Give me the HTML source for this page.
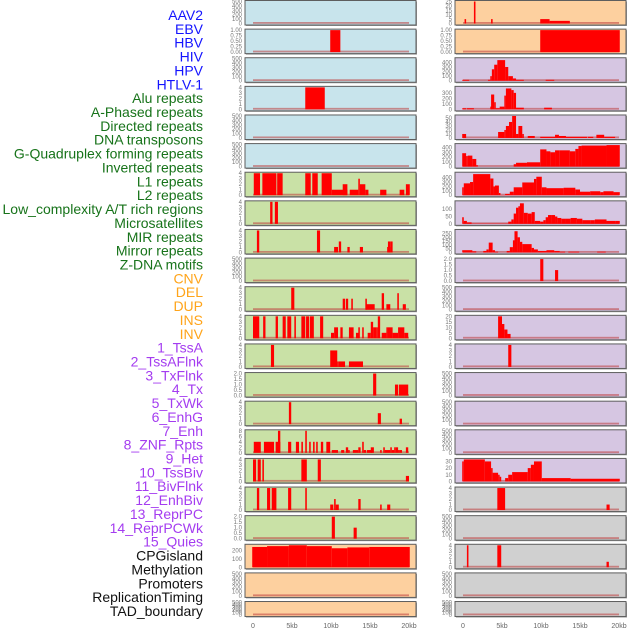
<!DOCTYPE html>
<html><head><meta charset="utf-8"><style>
html,body{margin:0;padding:0;background:#fff;width:630px;height:630px;overflow:hidden}
svg{display:block}
</style></head><body>
<svg id="chart" width="630" height="630" xmlns="http://www.w3.org/2000/svg" font-family="Liberation Sans, sans-serif"></svg>
<script>
// ---- labels ----
const labelNames = ["AAV2","EBV","HBV","HIV","HPV","HTLV-1","Alu repeats","A-Phased repeats","Directed repeats","DNA transposons","G-Quadruplex forming repeats","Inverted repeats","L1 repeats","L2 repeats","Low_complexity A/T rich regions","Microsatellites","MIR repeats","Mirror repeats","Z-DNA motifs","CNV","DEL","DUP","INS","INV","1_TssA","2_TssAFlnk","3_TxFlnk","4_Tx","5_TxWk","6_EnhG","7_Enh","8_ZNF_Rpts","9_Het","10_TssBiv","11_BivFlnk","12_EnhBiv","13_ReprPC","14_ReprPCWk","15_Quies","CPGisland","Methylation","Promoters","ReplicationTiming","TAD_boundary"];
const labelGroups = [0,0,0,0,0,0,1,1,1,1,1,1,1,1,1,1,1,1,1,2,2,2,2,2,3,3,3,3,3,3,3,3,3,3,3,3,3,3,3,4,4,4,4,4];
const xTicks = [0,5,10,15,20];
const xTickLabels = ["0","5kb","10kb","15kb","20kb"];

// ---- left column panels: [startKb, endKb, value] ----
const L0 = [];
const L1 = [[9.9,11.2,1]];
const L2 = [];
const L3 = [[6.7,9.2,4]];
const L4 = [];
const L5 = [];
const L6 = [[0.1,0.9,4],[1.2,3.0,4],[3.1,3.8,4],[6.7,7.4,4],[7.6,8.3,4],[8.8,10.1,4],[10.1,12.1,1],[11.5,12.1,2],[12.4,13.5,1],[13.5,13.7,3],[13.7,14.4,2],[14.4,14.8,1],[16.3,17.1,1],[18.8,19.4,1],[19.6,20.1,2]];
const L7 = [[2.2,2.5,4],[2.8,3.2,4]];
const L8 = [[0.5,0.8,4],[8.2,8.6,4],[10.4,10.9,1],[11.0,11.3,2],[12.1,12.4,1],[13.7,14.1,1],[17.2,17.6,1],[17.3,17.6,2],[17.6,17.9,2]];
const L9 = [];
const L10 = [[4.9,5.3,4],[11.5,11.8,2],[11.9,12.2,2],[12.6,12.8,2],[14.4,14.6,2],[14.5,15.6,1],[16.5,16.8,3],[17.1,17.6,1],[18.5,18.7,3],[19.2,19.6,1]];
const L11 = [[0,0.8,4],[1.3,1.6,4],[2.9,3.2,4],[3.8,4.2,4],[4.4,4.9,4],[5.3,5.5,4],[6.2,6.7,4],[6.8,7.2,4],[7.3,7.8,4],[8.6,9.0,4],[10.0,10.4,1],[10.4,10.9,2],[11.2,11.5,2],[12.3,12.9,2],[13.2,13.6,1],[13.5,13.7,2],[14.0,14.2,2],[14.7,15.1,1],[15.1,15.4,3],[15.4,15.8,2],[15.8,16.0,2],[16.0,16.3,4],[16.5,17.1,1],[17.1,17.3,2],[17.3,17.9,2],[17.9,18.6,1],[18.6,19.4,2],[19.4,19.9,1]];
const L12 = [[2.3,2.7,4],[9.9,10.8,3],[10.8,10.9,1],[11.0,11.8,1],[12.3,14.1,1]];
const L13 = [[15.4,15.8,2],[18.2,18.6,1],[18.7,19.9,1]];
const L14 = [[4.6,4.9,4],[16.0,16.4,2],[18.8,19.1,1]];
const L15 = [[0.1,1.0,4],[1.4,2.7,4],[2.9,3.5,4],[3.2,3.5,8],[4.5,4.9,4],[5.5,5.9,4],[6.2,6.4,4],[6.7,6.9,8],[7.2,7.4,4],[7.7,7.9,4],[8.1,8.3,4],[8.7,9.0,4],[9.4,9.9,4],[10.1,10.9,1],[11.3,11.7,1],[11.9,12.2,2],[12.2,12.4,1],[12.8,13.5,1],[13.5,13.8,2],[14.0,14.2,4],[14.2,14.5,1],[14.6,15.3,1],[15.1,15.5,2],[16.3,16.5,1],[16.7,16.9,2],[16.9,17.6,1],[17.6,17.8,2],[17.8,18.1,1],[18.1,18.3,2],[18.3,18.6,2],[18.6,18.8,1],[18.8,19.1,1],[19.6,19.9,2]];
const L16 = [[0,0.4,4],[0.6,1.0,4],[1.2,1.4,4],[6.2,6.9,4],[8.3,8.7,4],[19.6,20.0,1]];
const L17 = [[0.5,0.8,4],[1.8,2.2,4],[2.4,3.0,4],[4.5,4.9,4],[6.7,6.9,4],[9.9,10.3,1],[10.4,10.6,2],[10.6,11.0,1],[13.5,13.8,2],[16.3,16.5,1],[17.2,17.6,1]];
const L18 = [[10.1,10.5,2],[12.9,13.3,1]];
const L19 = [[-0.1,1.8,240],[1.8,4.6,250],[4.6,6.9,260],[6.9,10.1,250],[10.1,12.1,225],[12.1,14.9,235],[14.9,20.1,240]];
const L20 = [];
const L21 = [];

// ---- right column panels ----
const R0 = [[0.2,0.4,5],[1.4,1.6,25],[3.6,3.8,5],[9.9,11.1,5],[11.1,13.7,3]];
const R1 = [[9.9,20.1,1]];
const R2 = [[-0.1,0.8,20],[3.2,3.5,20],[3.5,3.7,100],[3.7,4.0,250],[4.0,4.4,350],[4.4,5.4,450],[5.4,5.8,300],[5.8,6.4,100],[6.4,6.8,50],[6.8,7.8,20],[10.6,11.7,20]];
const R3 = [[-0.1,0.4,20],[0.5,1.4,20],[3.5,3.6,50],[3.6,4.0,270],[4.0,4.2,130],[4.2,4.7,20],[4.7,5.3,50],[5.3,5.5,250],[5.5,6.2,380],[6.2,6.5,350],[6.5,6.8,300],[6.8,7.8,30],[10.4,11.4,30]];
const R4 = [[-0.1,0.4,10],[4.5,5.3,15],[5.3,5.5,20],[5.5,5.9,30],[5.9,6.3,40],[6.3,6.8,55],[6.8,7.1,10],[7.1,7.6,30],[7.6,7.8,10],[8.3,9.2,5],[9.9,11.8,3],[11.8,12.3,8],[12.3,13.2,5],[13.2,15.9,3],[16.0,16.7,3],[17.1,18.1,8],[18.1,19.5,3]];
const R5 = [[-0.1,0.4,280],[0.4,0.6,220],[0.6,1.2,230],[1.2,1.7,160],[1.7,1.8,30],[6.5,6.8,50],[6.8,8.2,80],[8.2,9.9,90],[9.9,10.7,360],[10.7,11.2,320],[11.2,11.8,300],[11.8,12.4,340],[12.4,13.7,340],[13.7,14.4,320],[14.4,14.8,370],[14.8,15.2,430],[15.2,18.4,440],[18.4,20.1,450]];
const R6 = [[-0.1,0.1,180],[0.1,0.9,270],[0.9,1.3,300],[1.3,3.5,480],[3.5,3.9,380],[3.9,4.1,200],[4.1,4.6,220],[4.6,4.8,50],[4.8,5.4,5],[5.4,6.0,30],[6.0,6.5,80],[6.5,7.6,180],[7.6,9.1,290],[9.1,9.4,370],[9.4,10.1,420],[10.1,10.7,180],[10.7,12.9,160],[12.9,14.4,170],[14.4,15.0,130],[15.0,16.3,80],[16.3,17.6,90],[17.6,18.0,70],[18.0,19.3,90],[19.3,20.1,70]];
const R7 = [[-0.1,0.1,45],[0.1,0.5,20],[0.5,1.1,10],[1.1,5.8,2],[5.8,6.2,15],[6.2,6.5,30],[6.5,6.8,70],[6.8,7.1,110],[7.1,7.3,120],[7.3,7.8,140],[7.8,8.3,75],[8.3,8.8,70],[8.8,9.2,80],[9.2,9.9,20],[9.9,10.3,15],[10.3,10.6,25],[10.6,10.9,45],[10.9,11.4,60],[11.4,11.8,60],[11.8,12.1,50],[12.1,12.6,40],[12.6,13.2,35],[13.2,13.8,35],[13.8,14.6,40],[14.6,15.3,35],[15.3,16.3,25],[16.3,16.9,25],[16.9,18.4,30],[18.4,19.6,20],[19.6,20.1,20]];
const R8 = [[-0.1,1.2,30],[1.2,1.7,15],[2.6,3.0,20],[3.0,3.3,40],[3.3,3.8,130],[3.8,4.1,30],[4.1,4.5,10],[5.6,6.0,20],[6.0,6.4,70],[6.4,6.6,160],[6.6,7.0,280],[7.0,7.3,200],[7.3,7.6,140],[7.6,8.8,110],[8.8,9.1,60],[9.1,9.6,40],[9.6,10.7,20],[10.7,11.7,30],[11.7,12.4,20],[12.4,13.1,10],[13.5,14.9,10],[17.2,18.3,10]];
const R9 = [[9.9,10.3,2],[11.8,12.2,1]];
const R10 = [];
const R11 = [[4.5,5.0,20],[5.0,5.3,13],[5.3,5.7,8],[5.7,6.1,4]];
const R12 = [[5.8,6.2,4]];
const R13 = [];
const R14 = [];
const R15 = [];
const R16 = [[-0.1,0.1,30],[0.1,2.8,33],[2.8,3.6,30],[3.6,3.8,20],[3.8,4.5,13],[4.5,4.7,10],[4.7,4.9,7],[5.4,5.8,5],[5.8,6.3,10],[6.3,8.3,14],[8.3,8.7,20],[8.7,9.1,25],[9.1,10.1,30],[10.1,13.8,5],[13.8,20.1,4]];
const R17 = [[4.4,5.4,4],[18.4,18.8,1]];
const R18 = [];
const R19 = [[0.5,0.7,4],[4.4,4.9,4],[18.4,18.7,1]];
const R20 = [];
const R21 = [];

// ---- axis scales per panel ----
const leftMax  = [500,1,500,4,500,500,4,4,4,500,4,4,4,2,4,8,4,4,2,260,500,500];
const rightMax = [25,1,480,400,55,460,500,150,290,2,500,20,4,500,500,500,33,4,500,4,500,500];
const leftTicks  = [[0,100,200,300,400,500],[0,0.25,0.5,0.75,1],[0,100,200,300,400,500],[0,1,2,3,4],[0,100,200,300,400,500],[0,100,200,300,400,500],[0,1,2,3,4],[0,1,2,3,4],[0,1,2,3,4],[0,100,200,300,400,500],[0,1,2,3,4],[0,1,2,3,4],[0,1,2,3,4],[0,0.5,1,1.5,2],[0,1,2,3,4],[0,2,4,6,8],[0,1,2,3,4],[0,1,2,3,4],[0,0.5,1,1.5,2],[0,100,200],[0,100,200,300,400,500],[0,100,200,300,400,500]];
const rightTicks = [[0,5,10,15,20,25],[0,0.25,0.5,0.75,1],[0,100,200,300,400],[0,100,200,300],[0,10,20,30,40,50],[0,100,200,300,400],[0,100,200,300,400],[0,50,100],[0,50,100,150,200,250],[0,0.5,1,1.5,2],[0,100,200,300,400,500],[0,5,10,15,20],[0,1,2,3,4],[0,100,200,300,400,500],[0,100,200,300,400,500],[0,100,200,300,400,500],[0,10,20,30],[0,1,2,3,4],[0,100,200,300,400,500],[0,1,2,3,4],[0,100,200,300,400,500],[0,100,200,300,400,500]];
const leftSegs = [L0,L1,L2,L3,L4,L5,L6,L7,L8,L9,L10,L11,L12,L13,L14,L15,L16,L17,L18,L19,L20,L21];
const rightSegs = [R0,R1,R2,R3,R4,R5,R6,R7,R8,R9,R10,R11,R12,R13,R14,R15,R16,R17,R18,R19,R20,R21];
const leftBg = ["#c8e4ec","#c8e4ec","#c8e4ec","#c8e4ec","#c8e4ec","#c8e4ec","#c9e1a6","#c9e1a6","#c9e1a6","#c9e1a6","#c9e1a6","#c9e1a6","#c9e1a6","#c9e1a6","#c9e1a6","#c9e1a6","#c9e1a6","#c9e1a6","#c9e1a6","#fdd09f","#fdd09f","#fdd09f"];
const rightBg = ["#fdd09f","#fdd09f","#d6c6e2","#d6c6e2","#d6c6e2","#d6c6e2","#d6c6e2","#d6c6e2","#d6c6e2","#d6c6e2","#d6c6e2","#d6c6e2","#d6c6e2","#d6c6e2","#d6c6e2","#d6c6e2","#d6c6e2","#d0d0d0","#d0d0d0","#d0d0d0","#d0d0d0","#d0d0d0"];

const NS = "http://www.w3.org/2000/svg";
const svg = document.getElementById("chart");
function mk(tag, attrs, parent) {
  const e = document.createElementNS(NS, tag);
  for (const k in attrs) e.setAttribute(k, attrs[k]);
  (parent || svg).appendChild(e);
  return e;
}
const groupColors = ["#1414ff","#17731a","#ffa41a","#a43cf0","#111111"];
const groupNames = ["virus","repeat","sv","chromhmm","other"];

// labels
labelNames.forEach((name, i) => {
  const t = mk("text", {x: 203, y: 15 + i * 13.86 + 5, "text-anchor": "end", "font-size": 14, fill: groupColors[labelGroups[i]]});
  t.textContent = name;
  
  
});

function drawPanel(colX, x0, i, segs, ymax, ticks, bg, colName) {
  const top = 0.5 + i * 28.62;
  const h = i === 21 ? 15 : 24.5;
  const g = mk("g", {});
  
  
  mk("rect", {x: colX + 1, y: top + 1, width: 171, height: h, fill: "#9a9a9a"}, g);
  const bgR = mk("rect", {x: colX, y: top, width: 171, height: h, fill: bg, stroke: "#5e5e5e", "stroke-width": 1}, g);
  
  
  const yb = top + h - 1.5, yt = top + 1;
  const ys = v => yb - (v / ymax) * (yb - yt);
  const xs = kb => x0 + kb * 7.8;
  const base = mk("rect", {x: xs(0), y: yb - 1.5, width: xs(20) - xs(0), height: 1.8, fill: "rgba(190,60,60,0.55)"}, g);
  
  
  segs.forEach(s => {
    const b = mk("rect", {x: xs(s[0]), y: ys(s[2]), width: Math.max(1.5, xs(s[1]) - xs(s[0])), height: yb - ys(s[2]), fill: "#ff0000"}, g);
    
    
  });
  ticks.forEach(tv => {
    const tt = mk("text", {x: colX - 3, y: ys(tv) + 2, "text-anchor": "end", "font-size": 6, fill: "#777"}, g);
    tt.textContent = String(tv === 0.25 ? "0.25" : tv === 0.5 && ymax === 1 ? "0.50" : tv === 0.75 ? "0.75" : tv === 1 && ymax === 1 ? "1.00" : tv === 0 && ymax === 1 ? "0.00" : (ymax === 2 ? tv.toFixed(1) : tv));
    
    
  });
}
for (let i = 0; i < 22; i++) {
  drawPanel(245, 253, i, leftSegs[i], leftMax[i], leftTicks[i], leftBg[i], 'left');
  drawPanel(455, 463, i, rightSegs[i], rightMax[i], rightTicks[i], rightBg[i], 'right');
}
[253, 463].forEach((x0, c) => {
  xTicks.forEach((kb, j) => {
    const t = mk("text", {x: x0 + kb * 7.8, y: 628, "text-anchor": "middle", "font-size": 7, fill: "#666"});
    t.textContent = xTickLabels[j];
    
    
  });
});
</script>
</body></html>
